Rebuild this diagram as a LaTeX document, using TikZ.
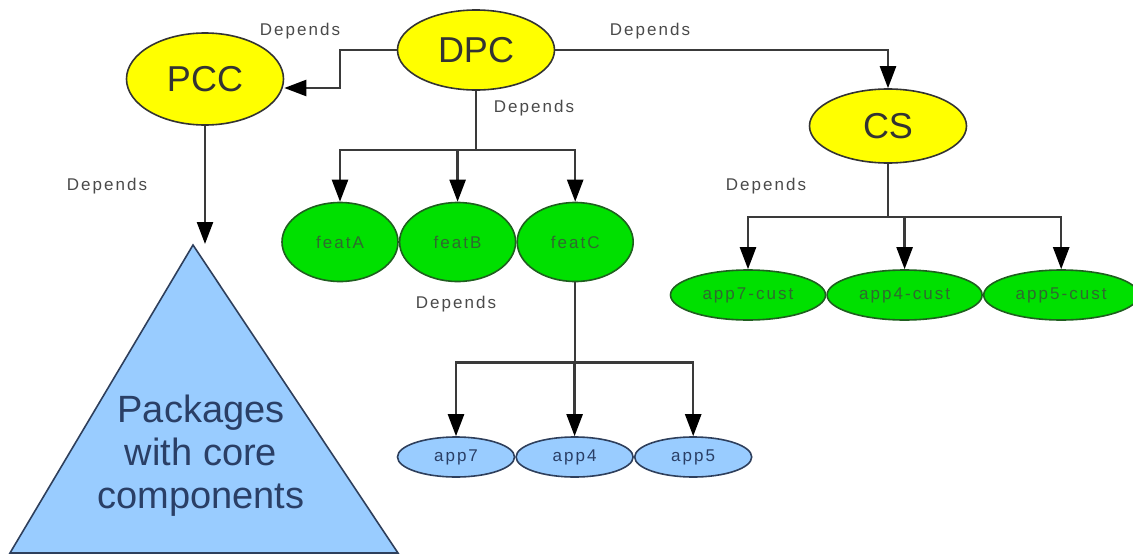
\documentclass[tikz,border=0pt]{standalone}
\usepackage{fontspec}
\setmainfont{Liberation Sans}
\newfontfamily\lblfont[LetterSpace=12]{Liberation Sans}
\usetikzlibrary{positioning,shapes.geometric,arrows.meta}
\usepackage{xcolor}

\definecolor{coreyellow}{HTML}{FFFF00}
\definecolor{featgreen}{HTML}{00E000}
\definecolor{featline}{HTML}{1F5F1F}
\definecolor{feattext}{HTML}{2F6A2F}
\definecolor{appblue}{HTML}{99CCFF}
\definecolor{appline}{HTML}{2E3F5C}
\definecolor{apptext}{HTML}{2A3F66}
\definecolor{linegray}{HTML}{3A3A3A}
\definecolor{labelgray}{HTML}{4A4A4A}

\tikzset{
	core/.style={ellipse,draw=black!80,line width=1.6pt,fill=coreyellow,text=black!80,
		minimum width=157pt,minimum height=80pt,inner sep=0pt,
		font=\fontsize{36}{36}\selectfont},
	feat/.style={ellipse,draw=featline,line width=1.6pt,fill=featgreen,text=feattext,
		minimum width=116pt,minimum height=79pt,inner sep=0pt,
		font=\lblfont\fontsize{17}{17}\selectfont},
	cust/.style={feat,minimum width=155pt,minimum height=50pt},
	app/.style={ellipse,draw=appline,line width=1.6pt,fill=appblue,text=apptext,
		minimum width=117pt,minimum height=40pt,inner sep=0pt,
		font=\lblfont\fontsize{17}{17}\selectfont},
	dep/.style={draw=linegray,line width=2.4pt,-{Triangle[length=22pt,width=16pt,color=black]}},
	lbl/.style={text=labelgray,font=\lblfont\fontsize{17}{17}\selectfont},
}

\begin{document}
\begin{tikzpicture}[x=1pt,y=-1pt]
	\useasboundingbox (0,0) rectangle (1133,557);
	% core packages
	\node[core,minimum height=92pt] (pcc) at (205,79) {PCC};
	\node[core] (dpc) at (476,50) {DPC};
	\node[core,minimum height=74pt] (cs) at (888,126) {CS};
	% features
	\node[feat] (featA) at (340,242) {featA};
	\node[feat] (featB) [right=0pt of featA] {featB};
	\node[feat] (featC) [right=0pt of featB] {featC};
	% apps
	\node[app] (app7) at (456,457) {app7};
	\node[app] (app4) [right=0pt of app7] {app4};
	\node[app] (app5) [right=0pt of app4] {app5};
	% customisations
	\node[cust] (app7cust) at (748,295) {app7-cust};
	\node[cust] (app4cust) [right=0pt of app7cust] {app4-cust};
	\node[cust] (app5cust) [right=0pt of app4cust] {app5-cust};
	% package pyramid
	\draw[draw=appline,line width=1.6pt,fill=appblue] (10,553) -- (193,245) -- (398,553) -- cycle;
	\coordinate (pkgtop) at (193,244);
	\node[text=apptext,align=center,font=\fontsize{38}{43}\selectfont] (pkgtext) at (201,456)
		{Packages\\with core\\components};
	% labels
	\node[lbl] (depPcc) at (300,31) {Depends};
	\node[lbl] (depCs) at (650,31) {Depends};
	\node[lbl] (depFeat) at (534,108) {Depends};
	\node[lbl] (depPkg) at (107,186) {Depends};
	\node[lbl] (depApp) at (456,304) {Depends};
	\node[lbl] (depCust) at (766,186) {Depends};
	% connectors
	\coordinate (pccjoin) at (340,88);
	\draw[dep] (dpc.west) -| (pccjoin) -- (pcc.east |- pccjoin);
	\draw[dep] (dpc.east) -| (cs.north);
	\draw[dep] (pcc.south) -- (pcc.south |- pkgtop);
	\foreach \n in {featA,featB,featC}
		\draw[dep] (dpc.south) -- ++(0,59) -| (\n.north);
	\foreach \n in {app7,app4,app5}
		\draw[dep] (featC.south) -- ++(0,80) -| (\n.north);
	\foreach \n in {app7cust,app4cust,app5cust}
		\draw[dep] (cs.south) -- ++(0,53) -| (\n.north);
\end{tikzpicture}
\end{document}
